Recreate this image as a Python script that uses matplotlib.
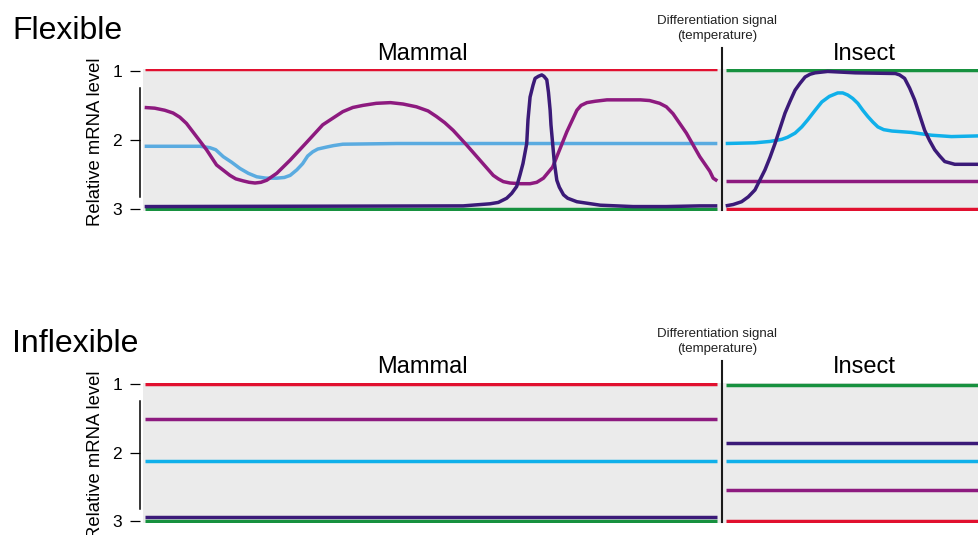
import matplotlib.pyplot as plt

plt.rcParams['font.family'] = ['Liberation Sans', 'DejaVu Sans']

# colours of the five genes
RED = '#e1102f'
GREEN = '#17913f'
MAGENTA = '#8d1a7f'
INDIGO = '#3b1a78'
BLUE_SOFT = '#5aabe0'
BLUE = '#10b0ea'
GRAY = '#ebebeb'

# time runs 0-100 across a panel, the signal is given at t = 69.2
signal_t = 69.2
mammal_span = [0.2, 68.7]
insect_span = [69.7, 100.0]
level_ticks = [1, 2, 3]

# ---- Flexible, mammal stage
flex_m_red = 0.98
flex_m_green = 3.0
flex_m_magenta_t = [0.2, 1.4, 2.6, 3.6, 4.4, 5.2, 6.4, 7.6, 8.8, 10.4, 11.1, 12.0, 12.7,
                    13.4, 14.1, 14.8, 16.0, 17.6, 19.6, 21.5, 23.9, 25.1, 26.3, 27.9,
                    29.6, 31.1, 32.7, 34.1, 35.1, 36.1, 37.1, 38.7, 40.3, 41.9, 42.5,
                    43.1, 43.9, 45.1, 46.3, 47.1, 47.9, 49.0, 50.7, 51.9, 52.4, 53.1,
                    54.1, 55.5, 59.5, 60.6, 61.8, 62.6, 63.4, 65.0, 66.6, 67.8, 68.2,
                    68.7]
flex_m_magenta = [1.53, 1.54, 1.57, 1.61, 1.67, 1.76, 1.95, 2.14, 2.36, 2.51, 2.56, 2.59,
                  2.61, 2.62, 2.61, 2.58, 2.48, 2.29, 2.03, 1.78, 1.59, 1.53, 1.50, 1.47,
                  1.46, 1.48, 1.52, 1.58, 1.66, 1.75, 1.86, 2.07, 2.29, 2.51, 2.56,
                  2.60, 2.62, 2.63, 2.63, 2.61, 2.55, 2.39, 1.88, 1.57, 1.50, 1.46,
                  1.44, 1.42, 1.42, 1.43, 1.47, 1.52, 1.62, 1.90, 2.24, 2.45, 2.55,
                  2.59]
flex_m_blue_t = [0.2, 6.8, 8.0, 8.7, 9.6, 10.6, 11.6, 12.6, 13.6, 14.7, 16.0, 16.9, 17.6,
                 18.4, 19.1, 19.7, 20.3, 20.9, 22.0, 22.8, 23.9, 30.4, 46.3, 68.7]
flex_m_blue = [2.09, 2.09, 2.11, 2.14, 2.24, 2.32, 2.41, 2.48, 2.53, 2.55, 2.55, 2.54,
               2.51, 2.43, 2.34, 2.23, 2.17, 2.13, 2.10, 2.08, 2.06, 2.05, 2.05, 2.05]
flex_m_indigo_t = [0.2, 38.3, 41.5, 42.5, 43.5, 44.1, 44.7, 45.1, 45.45, 45.9, 46.05,
                   46.3, 46.65, 46.9, 47.3, 47.7, 47.96, 48.3, 48.5, 48.7, 48.8, 49.0,
                   49.2, 49.5, 49.8, 50.3, 50.8, 51.9, 54.7, 58.6, 62.6, 66.6, 68.7]
flex_m_indigo = [2.96, 2.95, 2.92, 2.90, 2.84, 2.77, 2.67, 2.50, 2.34, 2.05, 1.71,
                 1.38, 1.21, 1.11, 1.08, 1.06, 1.08, 1.13, 1.31, 1.57, 1.78, 2.05,
                 2.32, 2.58, 2.68, 2.79, 2.84, 2.89, 2.94, 2.96, 2.96, 2.95, 2.95]

# ---- Flexible, insect stage
flex_i_green = 0.985
flex_i_red = 3.0
flex_i_magenta = 2.59
flex_i_indigo_t = [69.7, 70.6, 71.6, 72.4, 73.2, 74.4, 75.0, 75.6, 76.2, 76.8, 77.4,
                   78.0, 78.6, 79.2, 79.8, 80.4, 81.9, 85.2, 90.0, 90.5, 91.1, 91.7,
                   92.3, 92.9, 93.5, 94.1, 94.7, 95.3, 95.9, 96.5, 97.1, 100.0]
flex_i_indigo = [2.95, 2.93, 2.89, 2.82, 2.72, 2.43, 2.25, 2.05, 1.83, 1.61, 1.44,
                 1.28, 1.18, 1.09, 1.05, 1.03, 1.01, 1.03, 1.04, 1.06, 1.11, 1.25,
                 1.42, 1.64, 1.86, 2.01, 2.14, 2.23, 2.31, 2.33, 2.35, 2.35]
flex_i_blue_t = [69.7, 73.2, 75.0, 76.4, 77.1, 78.0, 78.8, 79.5, 80.4, 81.2, 82.1,
                 83.1, 83.7, 84.3, 84.9, 85.5, 86.1, 86.7, 87.3, 87.9, 88.6, 89.6,
                 91.9, 94.3, 96.7, 100.0]
flex_i_blue = [2.05, 2.04, 2.02, 1.99, 1.96, 1.90, 1.81, 1.71, 1.57, 1.45, 1.37,
               1.32, 1.32, 1.35, 1.40, 1.47, 1.57, 1.66, 1.74, 1.81, 1.85, 1.87,
               1.89, 1.93, 1.95, 1.94]

# ---- Inflexible, flat levels
inflex_mammal = {'red': 1.0, 'magenta': 1.51, 'blue': 2.12, 'indigo': 2.93, 'green': 3.0}
inflex_insect = {'green': 1.01, 'indigo': 1.85, 'blue': 2.12, 'magenta': 2.55, 'red': 3.0}

LW = 2.5
colour_of = {'red': RED, 'green': GREEN, 'magenta': MAGENTA, 'indigo': INDIGO, 'blue': BLUE}


def style_axes(ax, ylim, sig_top):
    ax.set_facecolor(GRAY)
    ax.set_xlim(0, 100)
    ax.set_ylim(*ylim)
    for s in ['top', 'right', 'bottom']:
        ax.spines[s].set_visible(False)
    ax.spines['left'].set_bounds(1.25, 2.82)
    ax.spines['left'].set_position(('outward', 2.2))
    ax.spines['left'].set_linewidth(1.1)
    ax.set_xticks([])
    ax.set_yticks(level_ticks)
    ax.tick_params(axis='y', length=7.2, width=0.9, pad=5.8, labelsize=12.5)
    # the differentiation signal
    ax.plot([signal_t, signal_t], [sig_top, 3.01], color='#1a1a1a', lw=1.5,
            clip_on=False, zorder=5)


def curve(ax, t, lvl, color):
    ax.plot(t, lvl, color=color, lw=LW, solid_joinstyle='round', solid_capstyle='butt')


def flat(ax, span, level, color):
    ax.plot(span, [level, level], color=color, lw=LW, solid_capstyle='butt')


fig = plt.figure(figsize=(9.79, 5.35), dpi=100)

# Flexible panel
ax1 = fig.add_axes([143 / 979, 0.6065, 836 / 979, 0.2654])
style_axes(ax1, (3.017, 0.968), 0.672)
flat(ax1, mammal_span, flex_m_green, GREEN)
flat(ax1, mammal_span, flex_m_red, RED)
curve(ax1, flex_m_blue_t, flex_m_blue, BLUE_SOFT)
curve(ax1, flex_m_magenta_t, flex_m_magenta, MAGENTA)
curve(ax1, flex_m_indigo_t, flex_m_indigo, INDIGO)
flat(ax1, insect_span, flex_i_green, GREEN)
flat(ax1, insect_span, flex_i_red, RED)
flat(ax1, insect_span, flex_i_magenta, MAGENTA)
curve(ax1, flex_i_blue_t, flex_i_blue, BLUE)
curve(ax1, flex_i_indigo_t, flex_i_indigo, INDIGO)

# Inflexible panel
ax2 = fig.add_axes([143 / 979, 0.0224, 836 / 979, 0.2617])
style_axes(ax2, (3.025, 0.981), 0.655)
for gene, lvl in inflex_mammal.items():
    flat(ax2, mammal_span, lvl, colour_of[gene])
for gene, lvl in inflex_insect.items():
    flat(ax2, insect_span, lvl, colour_of[gene])

# texts
for title, base, stage_base, sig_base in [('Flexible', 39, 60, 24.3),
                                          ('Inflexible', 351.7, 373.3, 337.3)]:
    fig.text(12 / 979, 1 - base / 535, title, fontsize=23, va='baseline')
    fig.text(422 / 979, 1 - stage_base / 535, 'Mammal', fontsize=17,
             ha='center', va='baseline')
    fig.text(864 / 979, 1 - stage_base / 535, 'Insect', fontsize=17,
             ha='center', va='baseline')
    fig.text(717 / 979, 1 - sig_base / 535, 'Differentiation signal', fontsize=9.5,
             ha='center', va='baseline', color='#222222')
    fig.text(717 / 979, 1 - (sig_base + 15) / 535, '(temperature)', fontsize=9.5,
             ha='center', va='baseline', color='#222222')

fig.text(95 / 979, 1 - 142 / 535, 'Relative mRNA level', rotation=90, fontsize=13.3,
         ha='center', va='center')
fig.text(95 / 979, 1 - 455 / 535, 'Relative mRNA level', rotation=90, fontsize=13.3,
         ha='center', va='center')

fig.savefig('out.png', dpi=100)
